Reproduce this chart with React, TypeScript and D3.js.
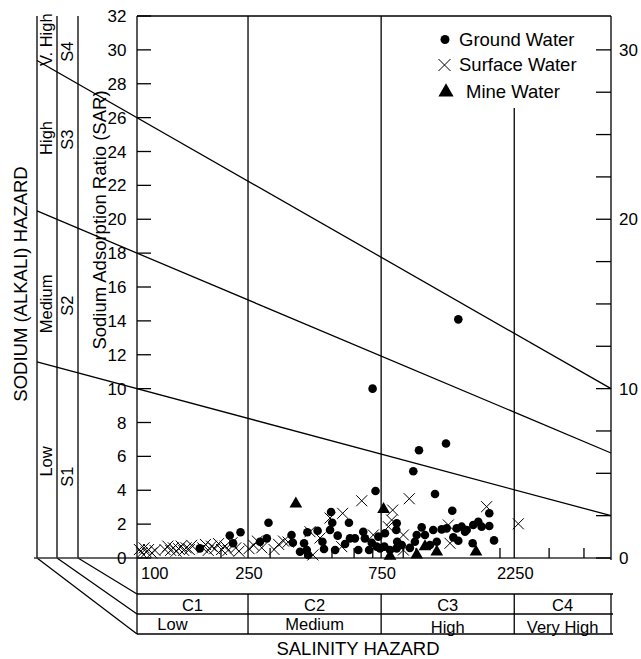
import React, { useEffect } from 'react';
import * as d3 from 'd3';

const W = 641;
const H = 659;

const groundWater: [number, number][] = [
  [168, 0.57], [215, 1.33], [221, 0.87], [235, 1.52], [276, 0.96], [292, 1.16], [296, 2.08],
  [358, 1.36], [362, 0.9], [384, 0.37], [397, 0.87], [406, 0.47], [408, 1.52], [411, 0.18],
  [444, 1.61], [462, 0.96], [468, 0.53], [492, 1.65], [496, 2.72], [501, 2.08], [524, 1.32],
  [513, 0.47], [557, 0.83], [575, 2.08], [580, 1.16], [604, 1.16], [621, 0.47], [647, 1.55],
  [656, 1.16], [694, 0.9], [679, 0.47], [743, 0.57], [716, 3.96], [699, 10.0], [733, 1.26],
  [723, 0.67], [774, 1.46], [770, 0.67], [807, 0.47], [853, 2.05], [850, 1.65], [856, 0.96],
  [853, 0.57], [889, 0.77], [978, 5.12], [1025, 6.36], [1281, 6.76], [1418, 14.09], [1170, 3.78],
  [1349, 2.79], [1048, 1.81], [1006, 1.36], [991, 0.96], [1153, 1.65], [1236, 1.69], [1288, 1.75],
  [1399, 1.75], [1458, 1.85], [1520, 1.65], [1361, 1.22], [1418, 1.02], [1187, 0.96], [1499, 1.55],
  [1604, 1.95], [1672, 2.14], [1719, 1.85], [1831, 1.89], [1596, 0.87], [1904, 1.04], [1831, 2.64],
  [951, 0.6], [1077, 1.36], [1122, 0.77],
];

const surfaceWater: [number, number][] = [
  [102, 0.5], [104, 0.3], [106, 0.6], [108, 0.35], [110, 0.5], [113, 0.3], [116, 0.45],
  [126, 0.5], [129, 0.7], [132, 0.45], [135, 0.6], [138, 0.4], [141, 0.55], [144, 0.7],
  [147, 0.45], [150, 0.6], [154, 0.5], [157, 0.75], [172, 0.6], [176, 0.8], [180, 0.45],
  [185, 0.7], [190, 0.55], [196, 0.85], [201, 0.5], [207, 0.7], [212, 0.45], [219, 0.9],
  [226, 0.6], [232, 0.4], [252, 0.55], [262, 0.75], [270, 1.0], [280, 0.6], [310, 0.5],
  [322, 0.8], [335, 1.0], [348, 0.94], [417, 1.55], [427, 0.18], [453, 1.18], [492, 2.36],
  [546, 2.64], [542, 0.67], [639, 3.38], [703, 1.36], [825, 2.83], [818, 2.24], [796, 1.85],
  [901, 1.36], [901, 0.47], [946, 3.5], [1306, 1.95], [1324, 0.87], [1791, 3.03], [2327, 2.02],
];

const mineWater: [number, number][] = [
  [371, 3.2], [765, 2.87], [807, 0.12], [1006, 0.18], [1077, 0.67], [1187, 0.37], [1641, 0.37],
];

const sarTicks = d3.range(0, 33, 2);
const sarRightTicks = d3.range(0, 31, 2.5);
const sarRightLabels = [0, 10, 20, 30];
const ecLabels = [100, 250, 750, 2250];
const ecMinorTicks = [200, 300, 400, 500, 600, 700, 800, 900, 1000, 2000, 3000, 4000];
const classBounds = [250, 750, 2250];
const salinityClasses = ['C1', 'C2', 'C3', 'C4'];
const salinityLevels = ['Low', 'Medium', 'High', 'Very High'];
// SAR of each sodium boundary at EC = 100 and EC = 5000
const sodiumBounds = [
  [10, 2.5],
  [18, 6.2],
  [26, 10],
];
const sodiumClasses = ['S1', 'S2', 'S3', 'S4'];
const sodiumLevels = ['Low', 'Medium', 'High', 'V. High'];
const levelLabelSar = [5.7, 15.0, 24.8, 30.6];
const classLabelSar = [4.8, 14.9, 24.7, 29.9];

const left = 137;
const right = 611;
const top = 16;
const bottom = 558;
const bandX = [37, 57, 78];
const rowY = [594, 614, 634];
const font = 'Liberation Sans, Arial, Helvetica, sans-serif';

const App = () => {
  useEffect(() => {
    document.body.style.margin = '0';
  }, []);

  const x = d3.scaleLog().domain([100, 5000]).range([left, right]);
  const y = d3.scaleLinear().domain([0, 32]).range([bottom, top]);

  const boundLine = (b: number[]) => {
    const e0 = x.invert(bandX[0]);
    const sarAt = (ec: number) => b[0] + ((b[1] - b[0]) * Math.log10(ec / 100)) / Math.log10(50);
    return { x1: bandX[0], y1: y(sarAt(e0)), x2: x(5000), y2: y(b[1]) };
  };

  const tri = d3.symbol().type(d3.symbolTriangle).size(70);
  const cellEdges = [left, ...classBounds.map((c) => x(c)), right];

  return (
    <svg width={W} height={H} style={{ display: 'block', background: '#fff' }} fontFamily={font}>
      <g stroke="#000" fill="none" strokeWidth={1.3}>
        {/* left sodium columns */}
        {bandX.map((bx) => (
          <line key={bx} x1={bx} y1={top} x2={bx} y2={bottom} />
        ))}
        {bandX.map((bx, i) => (
          <line key={'d' + bx} x1={bx} y1={bottom} x2={left} y2={rowY[2 - i]} />
        ))}
        {/* frame */}
        <line x1={left} y1={top} x2={right} y2={top} />
        <line x1={left} y1={top} x2={left} y2={rowY[2]} />
        <line x1={right} y1={top} x2={right} y2={bottom + 2} />
        <line x1={bandX[0] - 3} y1={bottom} x2={right} y2={bottom} stroke="#333" strokeWidth={1.6} />
        {/* class divisions */}
        <line x1={x(250)} y1={top} x2={x(250)} y2={bottom} />
        <line x1={x(750)} y1={top} x2={x(750)} y2={bottom} />
        <line x1={x(2250)} y1={108} x2={x(2250)} y2={bottom} />
        {/* bottom rows */}
        {rowY.map((ry) => (
          <line key={ry} x1={left} y1={ry} x2={right + 2} y2={ry} />
        ))}
        {cellEdges.slice(1).map((cx, i) => (
          <line key={'c' + i} x1={cx} y1={rowY[0]} x2={cx} y2={rowY[2]} />
        ))}
        {/* ticks */}
        {sarTicks.map((t) => (
          <line key={'t' + t} x1={left} y1={y(t)} x2={left + 14} y2={y(t)} />
        ))}
        {sarRightTicks.map((t) => (
          <line key={'r' + t} x1={right - 15} y1={y(t)} x2={right} y2={y(t)} />
        ))}
        {ecMinorTicks.map((t) => (
          <line key={'m' + t} x1={x(t)} y1={bottom} x2={x(t)} y2={bottom - 10} />
        ))}
        {/* sodium hazard boundaries */}
        {sodiumBounds.map((b, i) => {
          const l = boundLine(b);
          return <line key={'b' + i} {...l} />;
        })}
      </g>

      {/* data */}
      <g fill="#000">
        {groundWater.map((d, i) => (
          <circle key={'g' + i} cx={x(d[0])} cy={y(d[1])} r={4.3} />
        ))}
        {mineWater.map((d, i) => (
          <path key={'m' + i} d={tri() as string} transform={`translate(${x(d[0])},${y(d[1])})`} />
        ))}
      </g>
      <g stroke="#000" strokeWidth={1}>
        {surfaceWater.map((d, i) => {
          const cx = x(d[0]);
          const cy = y(d[1]);
          const s = 5.5;
          return (
            <g key={'s' + i}>
              <line x1={cx - s} y1={cy - s} x2={cx + s} y2={cy + s} />
              <line x1={cx - s} y1={cy + s} x2={cx + s} y2={cy - s} />
            </g>
          );
        })}
      </g>

      {/* axis labels */}
      <g fontSize={17} fill="#000">
        {sarTicks.map((t) => (
          <text key={'l' + t} x={126.5} y={y(t)} dy="0.36em" textAnchor="end">
            {t}
          </text>
        ))}
        {sarRightLabels.map((t) => (
          <text key={'rl' + t} x={619} y={y(t)} dy="0.36em">
            {t}
          </text>
        ))}
      </g>
      <g fontSize={16.5} fill="#000">
        {ecLabels.map((t) => (
          <text key={'e' + t} x={t === 100 ? 141 : x(t) + 1} y={579} textAnchor={t === 100 ? 'start' : 'middle'}>
            {t}
          </text>
        ))}
        {salinityClasses.map((c, i) => (
          <text key={c} x={(cellEdges[i] + cellEdges[i + 1]) / 2} y={611} textAnchor="middle">
            {c}
          </text>
        ))}
        {salinityLevels.map((c, i) => (
          <text key={c} x={(cellEdges[i] + cellEdges[i + 1]) / 2 - (i === 0 ? 20 : 0)} y={i < 2 ? 630 : 633} textAnchor="middle">
            {c}
          </text>
        ))}
        {sodiumLevels.map((c, i) => (
          <text key={'sl' + c} transform={`translate(52,${y(levelLabelSar[i])}) rotate(-90)`} textAnchor="middle">
            {c}
          </text>
        ))}
        {sodiumClasses.map((c, i) => (
          <text key={c} transform={`translate(73,${y(classLabelSar[i])}) rotate(-90)`} textAnchor="middle">
            {c}
          </text>
        ))}
      </g>
      <g fontSize={18.5} fill="#000">
        <text transform="translate(106,220) rotate(-90)" textAnchor="middle">
          Sodium Adsorption Ratio (SAR)
        </text>
        <text transform="translate(27,284) rotate(-90)" textAnchor="middle">
          SODIUM (ALKALI) HAZARD
        </text>
        <text x={358} y={655} textAnchor="middle">
          SALINITY HAZARD
        </text>
      </g>

      {/* legend */}
      <g fontSize={18.5} fill="#000">
        <circle cx={445} cy={39.5} r={4.5} />
        <text x={459} y={46}>Ground Water</text>
        <line x1={438.5} y1={59} x2={450.5} y2={71} stroke="#000" />
        <line x1={438.5} y1={71} x2={450.5} y2={59} stroke="#000" />
        <text x={459} y={71}>Surface Water</text>
        <path d={d3.symbol().type(d3.symbolTriangle).size(100)() as string} transform="translate(446,92)" />
        <text x={466} y={98}>Mine Water</text>
      </g>
    </svg>
  );
};

export default App;
